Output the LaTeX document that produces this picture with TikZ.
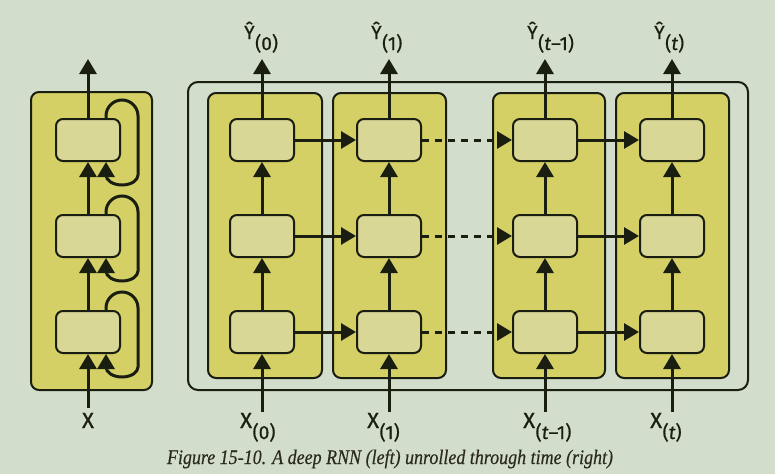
\documentclass[tikz,border=0pt]{standalone}
\usepackage{fontspec}
\newfontfamily\labelfont[FakeBold=0.6]{Fira Sans}
\newfontfamily\capfont[FakeBold=0.4]{Liberation Serif}
\usetikzlibrary{arrows.meta,calc}
\definecolor{bg}{HTML}{D3DDCC}
\definecolor{yel}{HTML}{D4D066}
\definecolor{cellc}{HTML}{D8D796}
\definecolor{ink}{HTML}{1A1E10}
\definecolor{capc}{HTML}{2A2A1C}
\tikzset{
  cellbox/.style={draw=ink, fill=cellc, line width=2pt, rounded corners=7pt,
    minimum width=64pt, minimum height=42pt, inner sep=0pt},
  layerbox/.style={draw=ink, fill=yel, line width=2pt, rounded corners=8pt, inner sep=0pt},
  framebox/.style={draw=ink, line width=2pt, rounded corners=10pt, inner sep=0pt},
  conn/.style={draw=ink, line width=3pt},
  arr/.style={conn, -{Triangle[length=15pt,width=17pt]}},
  dasharr/.style={arr, dash pattern=on 7pt off 6pt},
  lbl/.style={font=\labelfont\fontsize{22}{22}\selectfont, text=ink, inner sep=0pt}
}
\newcommand{\subs}[1]{\kern0.5pt\raisebox{-11pt}{\fontsize{19}{19}\selectfont #1}}
\begin{document}
\begin{tikzpicture}[x=1pt,y=1pt]
\useasboundingbox[fill=bg] (0,0) rectangle (775,-474);

% ---------- left: deep RNN ----------
\node[layerbox, minimum width=121pt, minimum height=298pt] (LB) at (91.5,-241) {};
\node[cellbox] (L1) at (88,-140) {};
\node[cellbox] (L2) at (88,-236) {};
\node[cellbox] (L3) at (88,-332) {};
\coordinate (xin) at (88,-408);
\coordinate (yout) at (88,-59);
\draw[arr] (xin) -- (L3.south);
\draw[arr] (L3.north) -- (L2.south);
\draw[arr] (L2.north) -- (L1.south);
\draw[arr] (L1.north) -- (yout);
\foreach \n in {L1,L2,L3}{
  \draw[arr] ($(\n.north)+(18,0)$) -- ++(0,2)
     arc[start angle=180, end angle=0, radius=16] -- ++(0,-59)
     arc[start angle=0, end angle=-180, x radius=16, y radius=10]
     -- ($(\n.south)+(18,0)$);
}
\node[lbl, anchor=base] (xl) at (88,-428) {X};

% ---------- right: unrolled ----------
\node[framebox, minimum width=560pt, minimum height=308pt] (FR) at (468,-236) {};
\foreach \i/\cx/\bx/\bw/\sb in {0/262/265/114/(0), 1/389/389.5/113/(1), 2/545/549/112/(\textit{t}–1), 3/672/672.5/113/(\textit{t})}{
  \node[layerbox, minimum width=\bw pt, minimum height=285pt] (B\i) at (\bx,-235.5) {};
  \node[cellbox] (R\i-a) at (\cx,-140) {};
  \node[cellbox] (R\i-b) at (\cx,-236) {};
  \node[cellbox] (R\i-c) at (\cx,-332) {};
  \coordinate (in\i) at (\cx,-412);
  \coordinate (out\i) at (\cx,-59);
  \draw[arr] (in\i) -- (R\i-c.south);
  \draw[arr] (R\i-c.north) -- (R\i-b.south);
  \draw[arr] (R\i-b.north) -- (R\i-a.south);
  \draw[arr] (R\i-a.north) -- (out\i);
  \node[lbl, anchor=base west] (X\i) at ($(\cx,-428)+(-22,0)$) {X\subs{\sb}};
  \node[lbl, anchor=base west, font=\labelfont\fontsize{19}{19}\selectfont] (Y\i) at ($(\cx,-39)+(-18,0)$) {Ŷ\subs{\sb}};
}
\foreach \r in {a,b,c}{
  \draw[arr] (R0-\r.east) -- (R1-\r.west);
  \draw[dasharr] (R1-\r.east) -- (R2-\r.west);
  \draw[arr] (R2-\r.east) -- (R3-\r.west);
}

% ---------- caption ----------
\node[anchor=base, text=capc, inner sep=0pt] (cap) at (390,-464)
  {\scalebox{1}[1.15]{\resizebox{446pt}{!}{\capfont\itshape Figure 15-10. A deep RNN (left) unrolled through time (right)}}};
\end{tikzpicture}
\end{document}
